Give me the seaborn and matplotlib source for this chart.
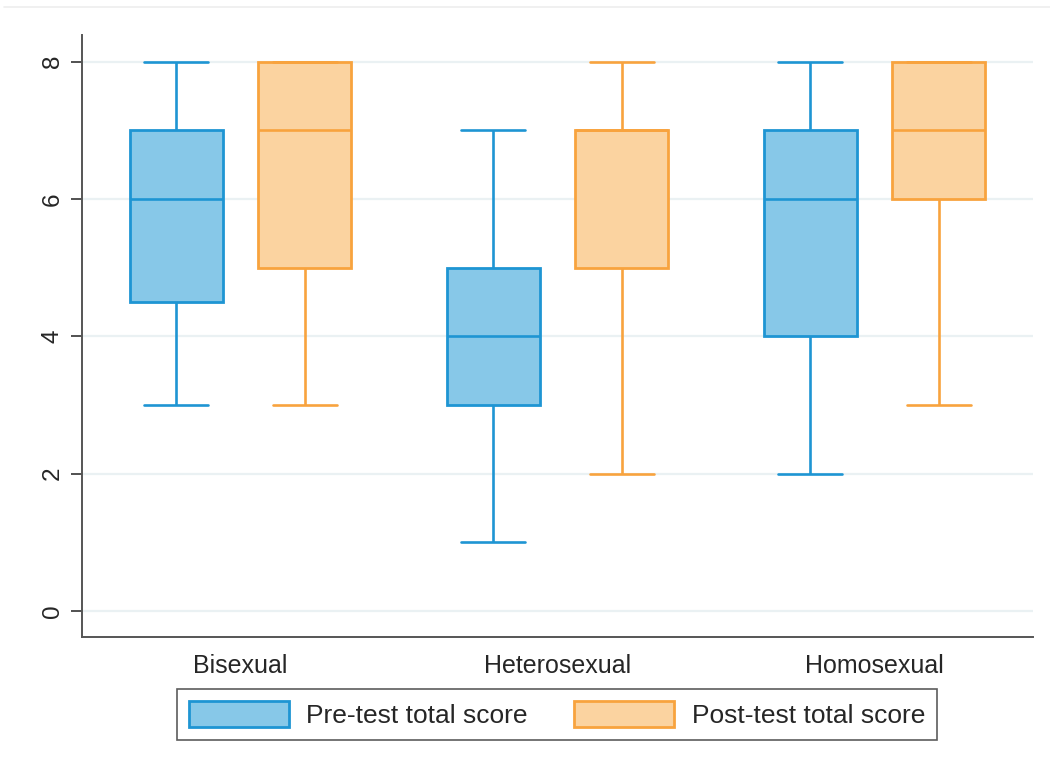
import matplotlib
matplotlib.use("Agg")
import matplotlib.pyplot as plt
import matplotlib.patches as mpatches
from matplotlib.lines import Line2D
import numpy as np
import pandas as pd
import seaborn as sns

# Five-number summaries (min, Q1, median, Q3, max) per orientation group
groups = ["Bisexual", "Heterosexual", "Homosexual"]
pre_bisexual = [3, 4.5, 6, 7, 8]
post_bisexual = [3, 5, 7, 8, 8]
pre_heterosexual = [1, 3, 4, 5, 7]
post_heterosexual = [2, 5, 7, 7, 8]
pre_homosexual = [2, 4, 6, 7, 8]
post_homosexual = [3, 6, 7, 8, 8]
series = ["Pre-test total score", "Post-test total score"]
y_ticks = [0, 2, 4, 6, 8]

rows = []
for g, pre, post in zip(groups,
                        [pre_bisexual, pre_heterosexual, pre_homosexual],
                        [post_bisexual, post_heterosexual, post_homosexual]):
    rows += [(g, series[0], v) for v in pre]
    rows += [(g, series[1], v) for v in post]
df = pd.DataFrame(rows, columns=["group", "test", "score"])

sns.set_style("white")
plt.rcParams["font.family"] = ["Liberation Sans", "DejaVu Sans"]

edge_cols = ["#1E95D3", "#F8A33E"]
fill_cols = ["#87C8E8", "#FBD3A0"]

fig = plt.figure(figsize=(10.5, 7.71), dpi=100)
ax = fig.add_axes([82 / 1050, 1 - 637 / 771, (1033 - 82) / 1050, (637 - 35) / 771])

ax.set_axisbelow(True)
ax.yaxis.grid(True, color="#EAF1F3", lw=1.6)
ax.xaxis.grid(False)

sns.boxplot(data=df, x="group", y="score", hue="test", order=groups,
            hue_order=series, palette=fill_cols, width=0.81, gap=0.28,
            whis=(0, 100), linewidth=2.0, fliersize=0, legend=False, ax=ax)


def series_of(xc):
    # left box of each pair is the pre-test, right box the post-test
    return 0 if xc - np.round(xc) < 0 else 1


for patch in ax.patches:
    verts = patch.get_transform().transform(patch.get_path().vertices)
    verts = ax.transData.inverted().transform(verts)
    s = series_of(verts[:, 0].mean())
    patch.set_edgecolor(edge_cols[s])
    patch.set_facecolor(fill_cols[s])
    patch.set_linewidth(2.0)
    patch.set_zorder(2)

cap_half = 0.101
for ln in ax.lines:
    xd = np.asarray(ln.get_xdata(), dtype=float)
    yd = np.asarray(ln.get_ydata(), dtype=float)
    if len(xd) == 0:
        continue
    xc = xd.mean()
    s = series_of(xc)
    ln.set_color(edge_cols[s])
    ln.set_linewidth(1.9)
    ln.set_zorder(3)
    # widen whisker caps
    if len(xd) == 2 and yd[0] == yd[1] and abs(xd[1] - xd[0]) < 0.25:
        ln.set_xdata([xc - cap_half, xc + cap_half])

ax.set_xlim(-0.5, 2.5)
ax.set_ylim(-0.38, 8.39)
ax.set_yticks(y_ticks)
ax.set_yticklabels([str(v) for v in y_ticks], rotation=90, va="center", fontsize=17.5)
ax.tick_params(axis="y", length=8, width=1.2, color="#333333", pad=5, left=True)
ax.tick_params(axis="x", length=0, labelsize=18, pad=12)
ax.set_xlabel("")
ax.set_ylabel("")
for side in ["top", "right"]:
    ax.spines[side].set_visible(False)
for side in ["left", "bottom"]:
    ax.spines[side].set_color("#555555")
    ax.spines[side].set_linewidth(1.4)

handles = [mpatches.Patch(facecolor=fill_cols[i], edgecolor=edge_cols[i], lw=2, label=series[i])
           for i in range(2)]
leg = fig.legend(handles=handles, loc="center", bbox_to_anchor=(557 / 1050, 1 - 714.5 / 771),
                 ncol=2, frameon=True, fancybox=False, fontsize=19, handlelength=3.8,
                 handleheight=1.1, columnspacing=1.75, handletextpad=0.65,
                 borderpad=0.45, borderaxespad=0, edgecolor="#333333")
leg.get_frame().set_linewidth(1.2)

fig.add_artist(Line2D([4 / 1050, 1], [1 - 7 / 771, 1 - 7 / 771], color="#EEEEEE", lw=1.2))

fig.savefig("out.png", dpi=100, facecolor="white")
